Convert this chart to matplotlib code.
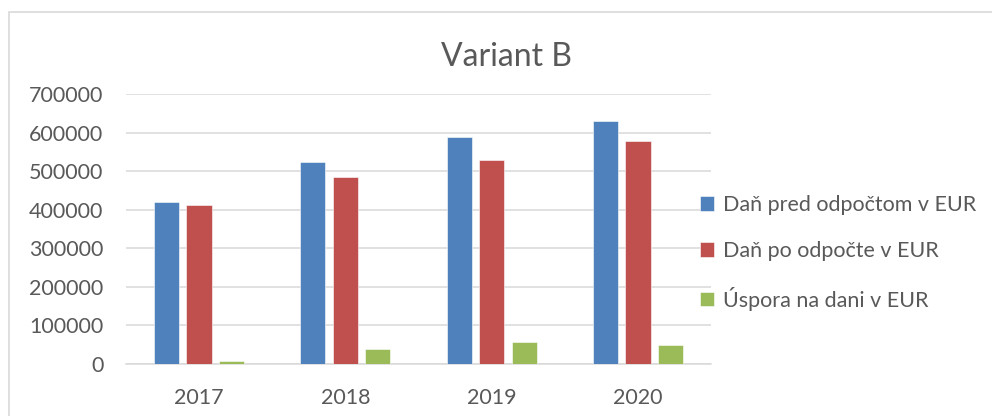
import matplotlib
matplotlib.use('Agg')
import numpy as np
import matplotlib.pyplot as plt
from matplotlib.patches import Rectangle

# Data
years = ['2017', '2018', '2019', '2020']
dan_pred = [420000, 525000, 588000, 629000]
dan_po = [412000, 485000, 528000, 579000]
uspora = [8000, 40000, 58000, 48000]
series_names = ['Daň pred odpočtom v EUR', 'Daň po odpočte v EUR', 'Úspora na dani v EUR']
y_ticks = [0, 100000, 200000, 300000, 400000, 500000, 600000, 700000]

colors = ['#4F81BD', '#C0504D', '#9BBB59']
text_color = '#595959'
grid_color = '#D9D9D9'

plt.rcParams['font.family'] = ['Lato', 'DejaVu Sans']

fig = plt.figure(figsize=(9.92, 4.16), dpi=100)

# chart area border (cropped on right and bottom)
fig.patches.append(Rectangle((9 / 992, -0.1), 1.2, 1 - 12 / 416 + 0.1,
                             transform=fig.transFigure, fill=False,
                             edgecolor='#D9D9D9', linewidth=1.2))

ax = fig.add_axes([125.7 / 992, 1 - 364 / 416, (711.3 - 125.7) / 992, 270 / 416])

x = np.arange(len(years))
width = 0.173
step = 0.222
data = [dan_pred, dan_po, uspora]
for i, vals in enumerate(data):
    ax.bar(x + (i - 1) * step, vals, width, color=colors[i], label=series_names[i],
           edgecolor='white', linewidth=0.4, zorder=3)

ax.set_xlim(-0.5, 3.5)
ax.set_ylim(0, 700000)
ax.set_yticks(y_ticks)
ax.set_yticklabels([str(t) for t in y_ticks])
ax.set_xticks(x)
ax.set_xticklabels(years)

ax.grid(axis='y', color=grid_color, linewidth=1.1, zorder=0)
ax.set_axisbelow(True)
for s in ['top', 'right', 'left']:
    ax.spines[s].set_visible(False)
ax.spines['bottom'].set_color(grid_color)
ax.spines['bottom'].set_linewidth(1.1)

ax.tick_params(axis='both', length=0, labelsize=15.5, colors=text_color)
ax.tick_params(axis='y', pad=16)
ax.tick_params(axis='x', pad=17)

fig.text(506 / 992, 1 - 57 / 416, 'Variant B', ha='center', va='center',
         fontsize=23, color=text_color)

leg = fig.legend(loc='center left', bbox_to_anchor=(700 / 992, 1 - 253 / 416),
                 frameon=False, fontsize=15.5, handlelength=0.65, handleheight=0.65,
                 handletextpad=0.4, labelspacing=1.2, borderpad=0, borderaxespad=0)
for t in leg.get_texts():
    t.set_color(text_color)

fig.savefig('out.png', dpi=100)
